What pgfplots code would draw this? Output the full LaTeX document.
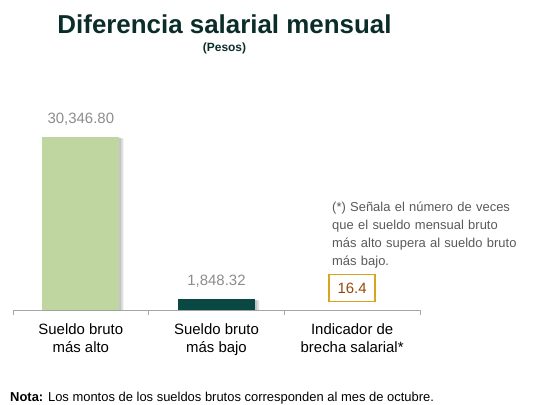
\documentclass[border=0pt]{standalone}
\usepackage{pgfplots}
\pgfplotsset{compat=1.18}
\usepackage{fontspec}
\setmainfont{Liberation Sans}
\definecolor{titlec}{HTML}{0B2D2A}
\definecolor{greenbar}{HTML}{C0D6A0}
\definecolor{darkbar}{HTML}{0A4843}
\definecolor{axisgray}{HTML}{A6A6A6}
\definecolor{valgray}{HTML}{8C8C8C}
\definecolor{notec}{HTML}{595959}
\definecolor{goldc}{HTML}{D9A520}
\definecolor{brownc}{HTML}{984807}
\begin{document}
\begin{tikzpicture}
\path[use as bounding box] (0,0) rectangle (538bp,-405bp);
\node[font=\fontsize{26}{30}\selectfont\bfseries, text=titlec, anchor=base, inner sep=0] at (224.5bp,-33bp) {Diferencia salarial mensual};
\node[font=\fontsize{12}{14}\selectfont\bfseries, text=titlec, anchor=base, inner sep=0] at (224.5bp,-51bp) {(Pesos)};
\begin{axis}[
  at={(13bp,-310bp)}, anchor=south west,
  scale only axis, width=407bp, height=200bp,
  xmin=-0.5, xmax=2.5, ymin=0, ymax=35084,
  hide y axis, axis x line*=bottom,
  x axis line style={color=axisgray, line width=0.8pt},
  xtick={0,1,2},
  xticklabels={{Sueldo bruto\\más alto},{Sueldo bruto\\más bajo},{Indicador de\\brecha salarial*}},
  major x tick style={draw=none},
  minor xtick={-0.5,0.5,1.5,2.5},
  minor x tick style={color=axisgray, line width=0.8pt},
  tick align=outside, minor tick length=5bp, major tick length=0pt,
  xticklabel style={align=center, font=\fontsize{15}{19}\selectfont, text=black, anchor=north, inner sep=0pt, yshift=-13bp},
  ybar, bar width=77bp, clip=false,
]
\addplot[draw=none, fill=black, fill opacity=0.12, bar shift=4bp] coordinates {(0,30100) (1,1700)};
\addplot[draw=none, fill=black, fill opacity=0.12, bar shift=2bp] coordinates {(0,30200) (1,1780)};
\addplot[draw=none, fill=greenbar, bar shift=0pt,
  nodes near coords,
  nodes near coords style={font=\fontsize{15}{18}\selectfont, text=valgray, anchor=base, inner sep=0pt, yshift=13.5bp,
    /pgf/number format/.cd, fixed, fixed zerofill, precision=2, 1000 sep={,}, assume math mode=true}] coordinates {(0,30346.80)};
\addplot[draw=none, fill=darkbar, bar shift=0pt,
  nodes near coords,
  nodes near coords style={font=\fontsize{15}{18}\selectfont, text=valgray, anchor=base, inner sep=0pt, yshift=13.5bp,
    /pgf/number format/.cd, fixed, fixed zerofill, precision=2, 1000 sep={,}, assume math mode=true}] coordinates {(1,1848.32)};
\node[draw=goldc, line width=1.5bp, text=brownc, font=\fontsize{15}{18}\selectfont, minimum width=46bp, minimum height=27bp, inner sep=0pt] at (axis cs:2,3860) {16.4};
\end{axis}
\node[anchor=north west, text width=181bp, align=left, font=\fontsize{13}{18.3}\selectfont, text=notec, inner sep=0pt] at (332bp,-201.5bp) {\makebox[181bp][s]{(*) Señala el número de veces}\\\makebox[181bp][s]{que el sueldo mensual bruto}\\\makebox[181bp][s]{más alto supera al sueldo bruto}\\más bajo.};
\node[anchor=base west, font=\fontsize{13}{15}\selectfont, inner sep=0pt] at (10bp,-401.5bp) {\textbf{Nota:} Los montos de los sueldos brutos corresponden al mes de octubre.};
\end{tikzpicture}
\end{document}
